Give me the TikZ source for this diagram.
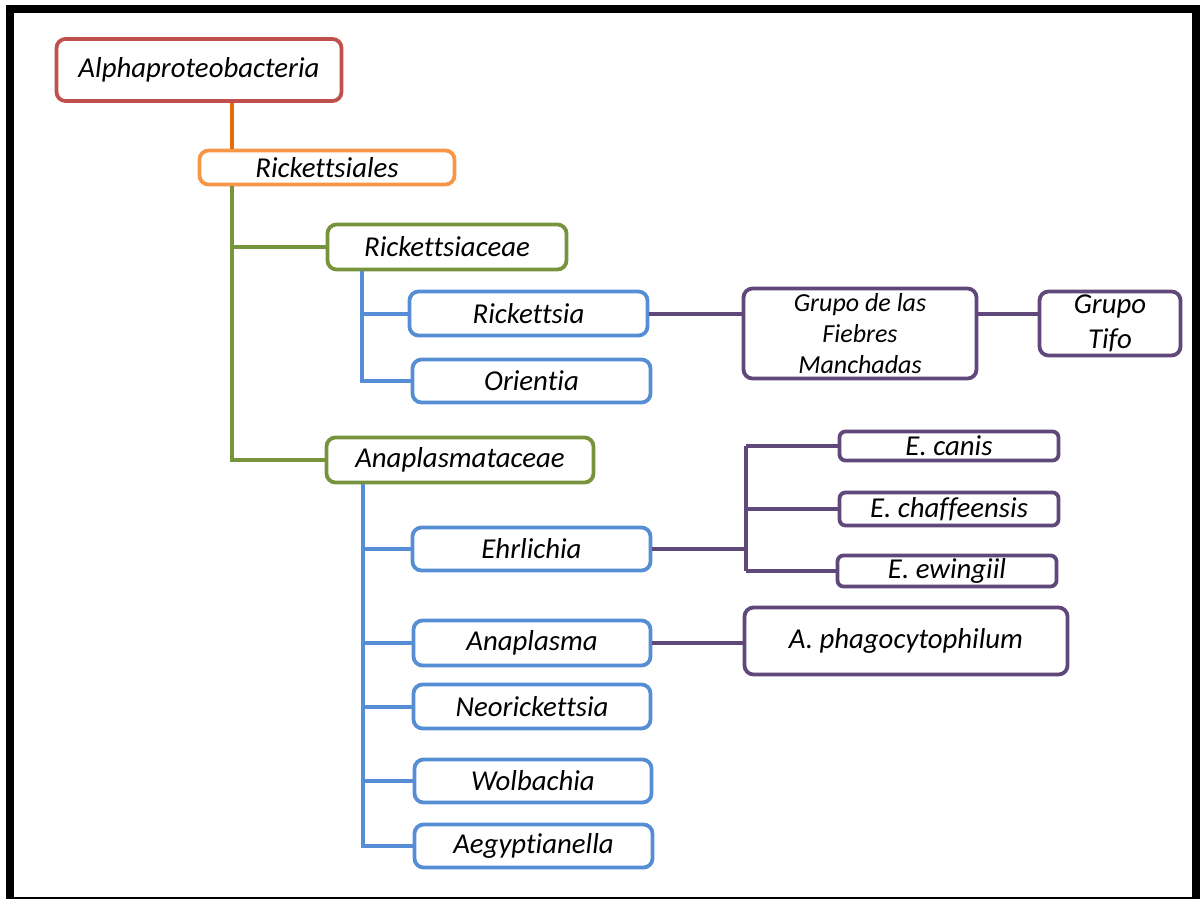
\documentclass[tikz,border=0pt]{standalone}
\usepackage{fontspec}
\setmainfont[Ligatures={NoCommon}]{Carlito}
\usetikzlibrary{calc}

\definecolor{cred}{RGB}{192,80,77}
\definecolor{corange}{RGB}{247,150,70}
\definecolor{cdorange}{RGB}{228,108,10}
\definecolor{cgreen}{RGB}{119,147,60}
\definecolor{cblue}{RGB}{85,142,213}
\definecolor{cpurple}{RGB}{96,73,122}

\tikzset{
  tbox/.style={draw=#1, fill=white, rounded corners=9pt, line width=3.8pt,
    inner sep=0pt, align=center,
    font=\fontsize{28.8}{35}\selectfont\itshape},
  link/.style={draw=#1, line width=4pt},
}

\begin{document}
\begin{tikzpicture}[x=1pt, y=-1pt]
  % page and frame
  \useasboundingbox (0,0) rectangle (1201,899);
  \fill[white] (0,0) rectangle (1201,899);
  \fill[black] (6,5) rectangle (1200,899);
  \fill[white] (14,13) rectangle (1192,897);

  % taxonomy boxes
  \node[tbox=cred, minimum width=285, minimum height=62] (alpha) at (199,70) {Alphaproteobacteria};
  \node[tbox=corange, minimum width=255, minimum height=34] (order) at (327,167.5) {Rickettsiales};
  \node[tbox=cgreen, minimum width=239, minimum height=45] (rfam) at (447,247) {Rickettsiaceae};
  \node[tbox=cgreen, minimum width=267, minimum height=45] (afam) at (460,460) {Anaplasmataceae};

  \node[tbox=cblue, minimum width=238, minimum height=44] (rick) at (528.5,313.5) {Rickettsia};
  \node[tbox=cblue, minimum width=238, minimum height=43] (orie) at (531.5,381) {Orientia};
  \node[tbox=cblue, minimum width=238, minimum height=43] (ehrl) at (531.5,549) {Ehrlichia};
  \node[tbox=cblue, minimum width=237, minimum height=45] (anap) at (532,643) {Anaplasma};
  \node[tbox=cblue, minimum width=237, minimum height=44] (neor) at (532,706.5) {Neorickettsia};
  \node[tbox=cblue, minimum width=237, minimum height=43] (wolb) at (533,781) {Wolbachia};
  \node[tbox=cblue, minimum width=238, minimum height=43] (aegy) at (533.5,846) {Aegyptianella};

  \node[tbox=cpurple, minimum width=233, minimum height=90,
        font=\fontsize{26}{31}\selectfont\itshape] (fieb) at (860,333.5) {Grupo de las\\Fiebres\\Manchadas};
  \node[tbox=cpurple, minimum width=141, minimum height=64] (tifo) at (1110,323.5) {Grupo\\Tifo};
  \node[tbox=cpurple, minimum width=219, minimum height=29, rounded corners=6pt] (ecan) at (949,446) {E. canis};
  \node[tbox=cpurple, minimum width=219, minimum height=33, rounded corners=6pt] (echa) at (949,509) {E. chaffeensis};
  \node[tbox=cpurple, minimum width=219, minimum height=31, rounded corners=6pt] (eewi) at (947,571) {E. ewingiil};
  \node[tbox=cpurple, minimum width=323, minimum height=67] (apha) at (906,641) {A. phagocytophilum};

  % spine positions
  \coordinate (sOrder) at (232,0);
  \coordinate (sR) at (362,0);
  \coordinate (sA) at (363,0);
  \coordinate (sE) at (746,0);

  % connectors
  \draw[link=cdorange] (alpha.south -| sOrder) -- (order.north -| sOrder);

  \draw[link=cgreen] (order.south -| sOrder) |- (afam.west);
  \draw[link=cgreen] (sOrder |- rfam.west) -- (rfam.west);

  \draw[link=cblue] (rfam.south -| sR) |- (orie.west);
  \draw[link=cblue] (sR |- rick.west) -- (rick.west);

  \draw[link=cblue] (afam.south -| sA) |- (aegy.west);
  \draw[link=cblue] (sA |- ehrl.west) -- (ehrl.west);
  \draw[link=cblue] (sA |- anap.west) -- (anap.west);
  \draw[link=cblue] (sA |- neor.west) -- (neor.west);
  \draw[link=cblue] (sA |- wolb.west) -- (wolb.west);

  \draw[link=cpurple] (rick.east) -- (rick.east -| fieb.west);
  \draw[link=cpurple] (fieb.east |- rick.east) -- (tifo.west |- rick.east);

  \draw[link=cpurple] (ehrl.east) -- (ehrl.east -| sE);
  \draw[link=cpurple] (sE |- ecan.west) -- (sE |- eewi.west);
  \draw[link=cpurple] (sE |- ecan.west) -- (ecan.west);
  \draw[link=cpurple] (sE |- echa.west) -- (echa.west);
  \draw[link=cpurple] (sE |- eewi.west) -- (eewi.west);

  \draw[link=cpurple] (anap.east) -- (anap.east -| apha.west);
\end{tikzpicture}
\end{document}
